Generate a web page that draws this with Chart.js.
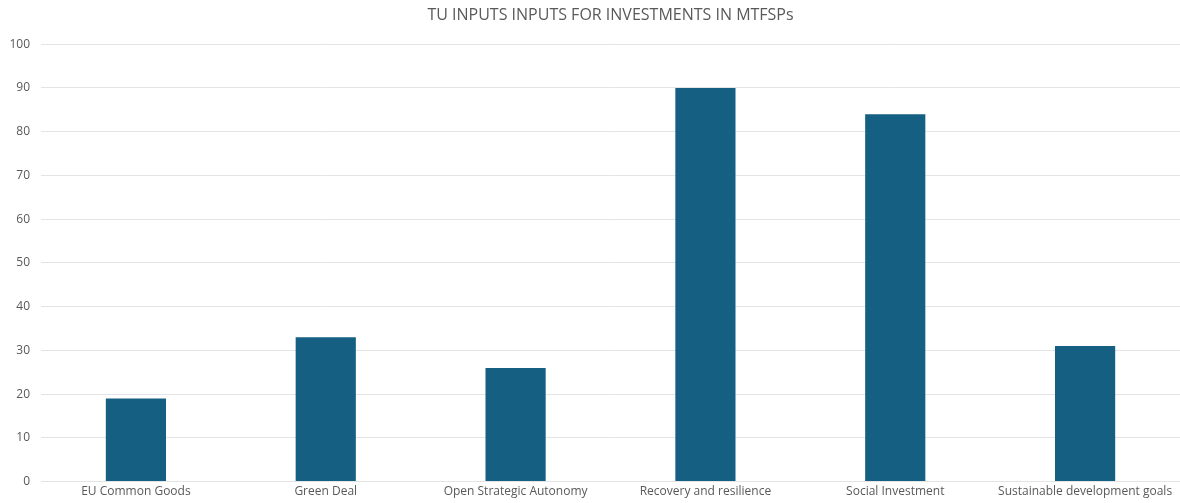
<!DOCTYPE html>
<html>
<head>
<meta charset="utf-8">
<title>TU inputs for investments in MTFSPs</title>
<script src="https://cdn.jsdelivr.net/npm/chart.js@4/dist/chart.umd.min.js"></script>
<style>
  html, body { margin: 0; padding: 0; background: #fff; }
  #wrap { width: 1180px; height: 503px; position: relative; }
</style>
</head>
<body>
<div id="wrap"><canvas id="mtfspChart"></canvas></div>
<script>
const categories = [
    'EU Common Goods',
    'Green Deal',
    'Open Strategic Autonomy',
    'Recovery and resilience',
    'Social Investment',
    'Sustainable development goals'
];
const inputCounts = [19, 33, 26, 90, 84, 31];
const yTicks = [0, 10, 20, 30, 40, 50, 60, 70, 80, 90, 100];

const barColor = '#156082';
const textColor = '#595959';
const gridColor = '#e4e4e4';
const fontFamily = '"Open Sans", "Liberation Sans", sans-serif';

const ctx = document.getElementById('mtfspChart').getContext('2d');
new Chart(ctx, {
    type: 'bar',
    data: {
        labels: categories,
        datasets: [{
            data: inputCounts,
            backgroundColor: barColor,
            borderWidth: 0,
            categoryPercentage: 1,
            barPercentage: 0.317
        }]
    },
    options: {
        responsive: true,
        maintainAspectRatio: false,
        animation: false,
        layout: { padding: { top: 0, right: 0, bottom: 1, left: 0 } },
        plugins: {
            legend: { display: false },
            tooltip: { enabled: false },
            title: {
                display: true,
                fullSize: false, // centre over the plot area, not the whole canvas
                text: 'TU INPUTS INPUTS FOR INVESTMENTS IN MTFSPs',
                color: textColor,
                font: { family: fontFamily, size: 16, weight: 'normal' },
                padding: { top: 6, bottom: 19 }
            }
        },
        scales: {
            x: {
                grid: { display: false, drawTicks: false },
                border: { display: true, color: gridColor, width: 1 },
                ticks: {
                    color: textColor,
                    font: { family: fontFamily, size: 12 },
                    padding: 3,
                    maxRotation: 0,
                    autoSkip: false
                }
            },
            y: {
                min: 0,
                max: 100,
                afterFit: axis => { axis.width = 41; },
                afterBuildTicks: axis => { axis.ticks = yTicks.map(v => ({ value: v })); },
                grid: { color: gridColor, lineWidth: 1, drawTicks: false },
                border: { display: false },
                ticks: {
                    color: textColor,
                    font: { family: fontFamily, size: 12 },
                    padding: 11
                }
            }
        }
    }
});
</script>
</body>
</html>
